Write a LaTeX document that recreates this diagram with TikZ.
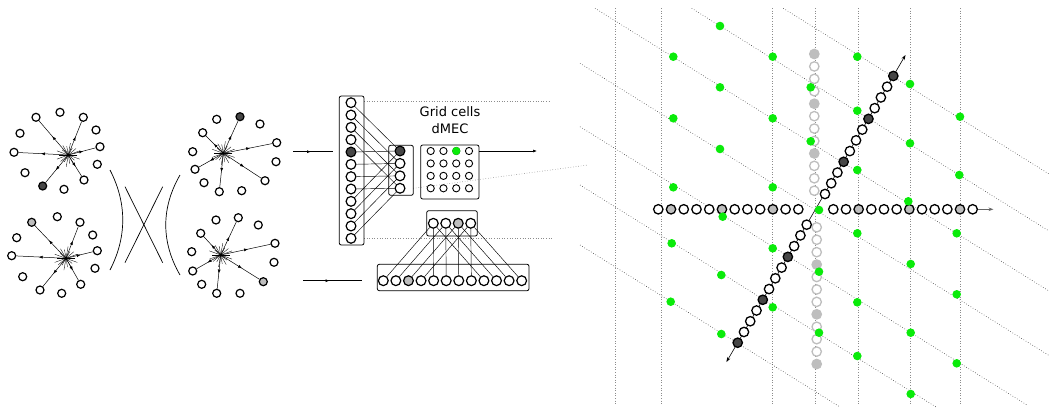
\documentclass[tikz,border=0pt]{standalone}
\usepackage{fontspec}
\setmainfont{DejaVu Sans}
\usetikzlibrary{arrows.meta,decorations.markings,calc}
\definecolor{gr}{RGB}{10,235,10}
\definecolor{dk}{RGB}{70,70,70}
\definecolor{lg}{RGB}{190,190,190}
\definecolor{vg}{RGB}{140,140,140}
\newcommand\starrays[1]{\foreach \a/\l in {0/9,20/12,40/8,60/11,80/9,100/12,120/8,140/10,160/12}{\draw[line width=0.35pt] (#1) ++(\a:\l) -- ++(\a+180:2*\l);}}
\begin{document}
\begin{tikzpicture}[x=1pt,y=-1pt,
  pc/.style={circle,draw,line width=1.2pt,fill=white,minimum size=8pt,inner sep=0pt},
  nc/.style={circle,draw,line width=1.2pt,fill=white,minimum size=9.8pt,inner sep=0pt},
  sc/.style={circle,draw,line width=0.9pt,fill=white,minimum size=7.2pt,inner sep=0pt},
  rc/.style={circle,draw,line width=1.3pt,fill=white,minimum size=9.4pt,inner sep=0pt},
  vc/.style={circle,draw=lg,line width=1.3pt,fill=white,minimum size=9.4pt,inner sep=0pt},
  gdot/.style={circle,fill=gr,minimum size=8.6pt,inner sep=0pt},
  ray/.style={line width=0.5pt,postaction={decorate},decoration={markings,mark=at position 0.55 with {\arrow{Latex[length=4pt,width=3pt]}}}},
  conn/.style={line width=0.45pt},
  box/.style={draw,line width=0.8pt,rounded corners=2pt},
  guide/.style={draw=vg,dotted,line width=0.6pt},
  diag/.style={draw=black!75,dotted,line width=0.6pt},
  midarr/.style={line width=0.6pt,postaction={decorate},decoration={markings,mark=at position 0.45 with {\arrow{Latex[length=4pt,width=3pt]}}}},
  endarr/.style={line width=0.6pt,-{Latex[length=4pt,width=3pt]}},
  lbl/.style={font=\fontsize{13}{15}\selectfont,inner sep=0pt}
]
\useasboundingbox (0,0) rectangle (1049,407);

% ---------- clusters ----------
\coordinate (A) at (68.3,155);
\foreach [count=\k] \x/\y/\s in {36/117.3/white,60/112.3/white,83.3/117.3/white,20/133.3/white,96/130/white,14/152.3/white,100/146.7/white,97.3/164.3/white,25/172.7/white,42.7/186/dk,64/189.3/white,84/180/white}
  \node[pc,fill=\s] (A\k) at (\x,\y) {};
\starrays{A}
\foreach \k in {1,3,6,7,10,12} \draw[ray] (A) -- (A\k);
\fill (A) circle (1.5pt);

\coordinate (B) at (223.3,153.3);
\foreach [count=\k] \x/\y/\s in {240/116.7/dk,216.7/119.3/white,260/124/white,202.7/132.7/white,276.7/142.7/white,192.7/151.7/white,276/161.7/white,195/169.3/white,265/180.7/white,204/182.7/white,219.3/191.7/white,241.7/190.7/white}
  \node[pc,fill=\s] (B\k) at (\x,\y) {};
\starrays{B}
\foreach \k in {1,4,5,8,9,11} \draw[ray] (B) -- (B\k);
\fill (B) circle (1.5pt);

\coordinate (C) at (66,258.3);
\foreach [count=\k] \x/\y/\s in {31.7/222.3/lg,57.3/216.7/white,80/222.3/white,16.7/237.7/white,92.7/235/white,11.7/255.7/white,97.3/250.7/white,95/268.3/white,22.7/276.7/white,40/290/white,61.7/293.3/white,80.7/284.3/white}
  \node[pc,fill=\s] (C\k) at (\x,\y) {};
\starrays{C}
\foreach \k in {1,3,6,7,10,12} \draw[ray] (C) -- (C\k);
\fill (C) circle (1.5pt);

\coordinate (D) at (220.7,255);
\foreach [count=\k] \x/\y/\s in {216/220/white,238.3/217.7/white,258.3/225/white,200.7/233.3/white,275/243.3/white,191.7/251.7/white,274/262.3/white,192.7/271/white,263.3/281.7/lg,201.7/284.3/white,216.7/293.3/white,240/293.3/white}
  \node[pc,fill=\s] (D\k) at (\x,\y) {};
\starrays{D}
\foreach \k in {2,4,5,8,9,11} \draw[ray] (D) -- (D\k);
\fill (D) circle (1.5pt);

% arcs and cross
\draw[line width=0.7pt] (110,170) .. controls (127,203) and (127,237) .. (110,270);
\draw[line width=0.7pt] (180,175) .. controls (161,208) and (161,242) .. (180,275);
\draw[line width=0.7pt] (125,186.7) -- (162.7,262.7);
\draw[line width=0.7pt] (162.7,186.7) -- (125,262.7);

% ---------- network ----------
\coordinate (in1a) at (293.3,151.7); \coordinate (in1b) at (332.7,151.7);
\draw[midarr] (in1a) -- (in1b);
\coordinate (in2a) at (303.3,280.7); \coordinate (in2b) at (361.7,280.7);
\draw[midarr] (in2a) -- (in2b);

\draw[guide] (364,101.7) -- (550,101.7);
\draw[guide] (364,238.3) -- (552,238.3);
\draw[guide] (413.3,188.3) -- (588,165);

\draw[box] (339.3,96) rectangle (364,245);
\draw[box] (388.7,145.3) rectangle (413.3,195.3);
\draw[box] (420.7,145) rectangle (479,199);
\draw[box] (426.7,210.7) rectangle (477.3,236);
\draw[box] (377.3,264.3) rectangle (529,290.7);

\foreach \i in {0,...,11} {
  \ifnum\i=4 \def\f{dk}\else\def\f{white}\fi
  \node[nc,fill=\f] (col\i) at (351,102.7+12.33*\i) {};
}
\foreach \j in {0,...,3} {
  \ifnum\j=0 \def\f{dk}\else\def\f{white}\fi
  \node[nc,fill=\f] (m\j) at (400,151+12.43*\j) {};
}
\foreach \i in {0,...,11} {
  \pgfmathtruncatemacro\j{mod(\i,4)}
  \draw[conn] (col\i) -- (m\j);
}

\foreach \r in {0,...,3} \foreach \c in {0,...,3} {
  \node[sc] (g\r\c) at (430.7+12.77*\c,151+12.43*\r) {};
}
\node[circle,fill=gr,draw=none,minimum size=8.2pt,inner sep=0pt] (gsel) at (g02) {};

\coordinate (outa) at (479,151); \coordinate (outb) at (537,151);
\draw[endarr] (outa) -- (outb);

\node[lbl] (t1) at (450,111.7) {Grid cells};
\node[lbl] (t2) at (450,128.3) {dMEC};

\foreach \j in {0,...,3} {
  \ifnum\j=2 \def\f{lg}\else\def\f{white}\fi
  \node[nc,fill=\f] (s\j) at (433.3+12.47*\j,223.3) {};
}
\foreach \i in {0,...,11} {
  \ifnum\i=2 \def\f{lg}\else\def\f{white}\fi
  \node[nc,fill=\f] (r\i) at (383.3+12.58*\i,280.7) {};
}
\foreach \j in {0,...,3} {
  \pgfmathtruncatemacro\a{\j}
  \pgfmathtruncatemacro\b{\j+4}
  \pgfmathtruncatemacro\c{\j+8}
  \draw[conn] (s\j) -- (r\a);
  \draw[conn] (s\j) -- (r\b);
  \draw[conn] (s\j) -- (r\c);
}

% ---------- right panel ----------
\foreach \x in {615,661,772.7,815,858.3,910,960.7}
  \draw[guide] (\x,8) -- (\x,405);
\draw[diag] (783.3,8.3) -- (1049,174);
\draw[diag] (691.7,8.3) -- (1049,231);
\draw[diag] (595,8.3) -- (1049,291);
\draw[diag] (580,63.3) -- (1049,355.5);
\draw[diag] (580,126.7) -- (1027,405);
\draw[diag] (580,185) -- (936,407);
\draw[diag] (580,245) -- (840,407);

% vertical grey column
\foreach \i in {0,...,11} {
  \ifnum\i=0 \def\f{lg}\else\ifnum\i=4 \def\f{lg}\else\ifnum\i=8 \def\f{lg}\else\def\f{white}\fi\fi\fi
  \node[vc,fill=\f] (vt\i) at (814.3,54+12.43*\i) {};
}
\foreach \i in {0,...,11} {
  \ifnum\i=3 \def\f{lg}\else\ifnum\i=7 \def\f{lg}\else\ifnum\i=11 \def\f{lg}\else\def\f{white}\fi\fi\fi
  \node[vc,fill=\f] (vb\i) at (816.7,227.3+12.43*\i) {};
}

% diagonal line with arrows
\coordinate (dA) at (726.4,362);
\coordinate (dB) at (905.5,55);
\draw[line width=0.6pt,{Stealth[length=5pt,width=3.5pt]}-{Stealth[length=5pt,width=3.5pt]}] (dA) -- (dB);
\foreach \i in {0,...,11} {
  \ifnum\i=0 \def\f{dk}\else\ifnum\i=4 \def\f{dk}\else\ifnum\i=8 \def\f{dk}\else\def\f{white}\fi\fi\fi
  \node[rc,fill=\f] (dl\i) at (737.7+6.27*\i,342.7-10.73*\i) {};
}
\foreach \i in {0,...,11} {
  \ifnum\i=3 \def\f{dk}\else\ifnum\i=7 \def\f{dk}\else\ifnum\i=11 \def\f{dk}\else\def\f{white}\fi\fi\fi
  \node[rc,fill=\f] (du\i) at (825+6.21*\i,194-10.73*\i) {};
}

% horizontal row
\foreach \i in {0,...,11} {
  \ifnum\i=1 \def\f{lg}\else\ifnum\i=5 \def\f{lg}\else\ifnum\i=9 \def\f{lg}\else\def\f{white}\fi\fi\fi
  \node[rc,fill=\f] (hl\i) at (658.3+12.73*\i,209.3) {};
}
\foreach \i in {0,...,11} {
  \ifnum\i=2 \def\f{lg}\else\ifnum\i=6 \def\f{lg}\else\ifnum\i=10 \def\f{lg}\else\def\f{white}\fi\fi\fi
  \node[rc,fill=\f] (hr\i) at (833.3+12.67*\i,209.3) {};
}
\coordinate (hend) at (993.5,209.3);
\draw[line width=1pt,black!60,-{Stealth[length=5pt,width=3.5pt]}] (hr11) -- (hend);

% green dots
\foreach [count=\k] \x/\y in {720/26,673.3/56.7,772.7/56.7,857.3/56.7,720/87.3,910/84,673.3/118.3,772.7/118.3,857.3/110.7,960/116.7,810.7/87.3,720/149,810.7/141.3,910/143.3,857.3/170,959.3/175,673.3/187.3,772.7/187.3,908.3/201.3,819/210,722.7/216.7,857.3/233.3,956.7/233.3,671.7/243.3,772.7/248.3,910.7/264,819/271.7,721.3/275,956.7/294.3,857.3/302.3,670.7/301.7,772.7/307.3,910.7/332.7,819/332.7,721.3/334,857.3/356,956.7/363.3,910.7/394}
  \node[gdot] (gd\k) at (\x,\y) {};
\end{tikzpicture}
\end{document}
